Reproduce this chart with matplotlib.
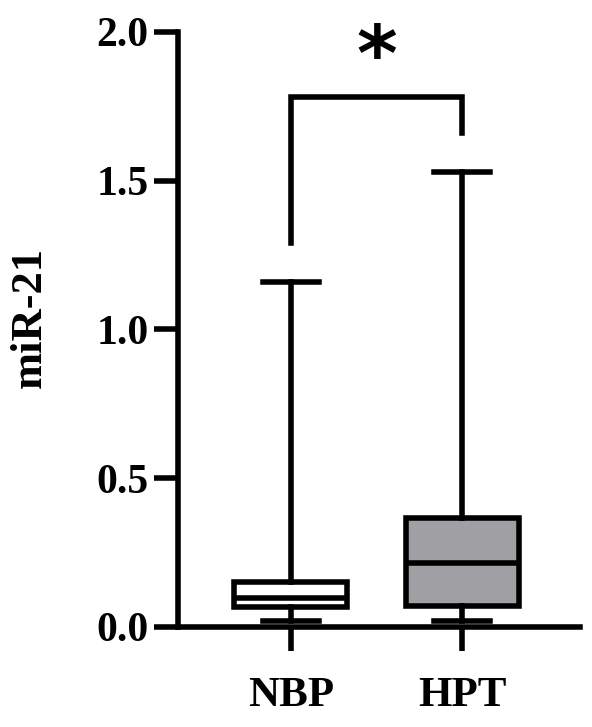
import matplotlib
matplotlib.use("Agg")
import matplotlib.pyplot as plt

groups = ["NBP", "HPT"]
whislo = [0.02, 0.02]
q1 = [0.068, 0.07]
med = [0.097, 0.215]
q3 = [0.15, 0.366]
whishi = [1.16, 1.53]
colors = ["white", "#a0a0a4"]

plt.rcParams["font.family"] = "Liberation Serif"
plt.rcParams["font.weight"] = "bold"

fig = plt.figure(figsize=(5.92, 7.27), dpi=100)
ax = fig.add_axes([0.3007, 0.1376, 0.6793, 0.8184])

stats = []
for i, g in enumerate(groups):
    stats.append(dict(label=g, whislo=whislo[i], q1=q1[i], med=med[i],
                      q3=q3[i], whishi=whishi[i], fliers=[]))

lw = 4
bp = ax.bxp(stats, positions=[0, 1], widths=0.66, patch_artist=True,
            showfliers=False,
            boxprops=dict(linewidth=lw, edgecolor="black"),
            medianprops=dict(linewidth=lw, color="black"),
            whiskerprops=dict(linewidth=lw, color="black"),
            capprops=dict(linewidth=lw, color="black"),
            capwidths=0.33)
for patch, c in zip(bp["boxes"], colors):
    patch.set_facecolor(c)

# significance bracket
ax.plot([0, 0, 1, 1], [1.29, 1.78, 1.78, 1.66], color="black", lw=lw,
        solid_joinstyle="miter", clip_on=False)
ax.text(0.5, 1.91, "*", ha="center", va="center", fontsize=56,
        fontweight="bold", family="DejaVu Sans")

ax.set_xlim(-0.66, 1.69)
ax.set_ylim(0, 2.0)
ax.set_yticks([0, 0.5, 1.0, 1.5, 2.0])
ax.set_yticklabels(["0.0", "0.5", "1.0", "1.5", "2.0"])
ax.set_xticks([0, 1])
ax.set_xticklabels(groups)
ax.spines["top"].set_visible(False)
ax.spines["right"].set_visible(False)
for s in ["left", "bottom"]:
    ax.spines[s].set_linewidth(lw)
ax.tick_params(axis="both", width=lw, length=17, labelsize=30, pad=4)
ax.tick_params(axis="x", labelsize=31, pad=19)
ax.set_ylabel("miR-21", fontsize=32, fontweight="bold")
ax.yaxis.set_label_coords(-0.32, 0.52)

fig.savefig("out.png", dpi=100)
